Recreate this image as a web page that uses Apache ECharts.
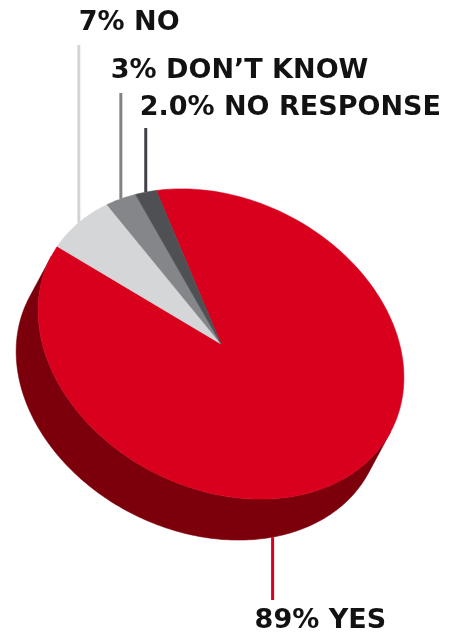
<!DOCTYPE html>
<html><head><meta charset="utf-8">
<script src="https://cdn.jsdelivr.net/npm/echarts@6/dist/echarts.min.js"></script>
<style>html,body{margin:0;padding:0;background:#fff}#c{width:460px;height:635px}</style>
</head><body><div id="c"></div>
<script>
// ---- data ----
const categories = ['YES', 'NO', 'DON\u2019T KNOW', 'NO RESPONSE'];
const values = [89, 7, 3, 2];
const percentLabels = ['89%', '7%', '3%', '2.0%'];

// ---- style / layout ----
const topColors = ['#d8001c', '#d5d6d8', '#858689', '#4e5053'];
const sideColors = ['#7b000c', '#a0a1a3', '#5a5b5e', '#333437'];
const lineColors = ['#d8001c', '#d3d4d6', '#808285', '#404245'];
const geo = { cx: 221, cy: 344, a: 191, b: 145, rot: 26.3, dx: -22, dy: 41, start: 228.7 };
const labelLayout = [
  { anchorT: 45.7, onBottom: true, lineEndY: 600, textDx: -18, textY: 621 },
  { anchorT: null, lineEndY: 45, textDx: 0, textY: 22.5 },
  { anchorT: null, lineEndY: 93, textDx: -10, textY: 70.5 },
  { anchorT: null, lineEndY: 128, textDx: -6, textY: 108 }
];
const FONT = 'bold 27px "DejaVu Sans"';

const total = values.reduce((s, v) => s + v, 0);
const starts = []; let acc = 0; values.forEach(v => { starts.push(acc); acc += v; });

const R = geo.rot * Math.PI / 180;
function pt(tDeg, shift) {
  const t = tDeg * Math.PI / 180;
  const u = geo.a * Math.cos(t), v = geo.b * Math.sin(t);
  return [geo.cx + Math.cos(R) * u - Math.sin(R) * v + (shift ? geo.dx : 0),
          geo.cy + Math.sin(R) * u + Math.cos(R) * v + (shift ? geo.dy : 0)];
}
function arc(t1, t2, shift) {
  const n = Math.max(2, Math.ceil(Math.abs(t2 - t1)));
  const out = [];
  for (let i = 0; i <= n; i++) out.push(pt(t1 + (t2 - t1) * i / n, shift));
  return out;
}
function angles(i) {
  const t1 = geo.start + starts[i] / total * 360;
  const t2 = t1 + values[i] / total * 360;
  return [t1, t2];
}
// front-facing range of the rim (where the extrusion is visible)
const dlx = Math.cos(R) * geo.dx + Math.sin(R) * geo.dy;
const dly = -Math.sin(R) * geo.dx + Math.cos(R) * geo.dy;
const phi = Math.atan2(geo.a * dly, geo.b * dlx) * 180 / Math.PI;

const seriesData = values.map((v, i) => ({ name: categories[i], value: [v, i] }));

const chart = echarts.init(document.getElementById('c'));
chart.setOption({
  animation: false,
  backgroundColor: '#ffffff',
  series: [
    {
      type: 'custom', name: 'side', coordinateSystem: 'none', z: 1, silent: true,
      data: seriesData,
      renderItem: function (params, api) {
        const i = params.dataIndex;
        const [t1, t2] = angles(i);
        const children = [];
        for (let k = -2; k <= 3; k++) {
          const lo = Math.max(t1, phi - 90 + 360 * k);
          const hi = Math.min(t2, phi + 90 + 360 * k);
          if (hi > lo) {
            const pts = arc(lo, hi, false).concat(arc(hi, lo, true));
            children.push({ type: 'polygon', shape: { points: pts },
              style: { fill: sideColors[i], stroke: sideColors[i], lineWidth: 0.5 } });
          }
        }
        return { type: 'group', children: children };
      }
    },
    {
      type: 'custom', name: 'top', coordinateSystem: 'none', z: 2, silent: true,
      data: seriesData,
      renderItem: function (params, api) {
        const i = params.dataIndex;
        const [t1, t2] = angles(i);
        const pts = [[geo.cx, geo.cy]].concat(arc(t1, t2, false));
        return { type: 'polygon', shape: { points: pts },
          style: { fill: topColors[i], stroke: topColors[i], lineWidth: 0.6 } };
      }
    },
    {
      type: 'custom', name: 'labels', coordinateSystem: 'none', z: 3, silent: true,
      data: seriesData,
      renderItem: function (params, api) {
        const i = params.dataIndex;
        const L = labelLayout[i];
        const [t1, t2] = angles(i);
        const t = L.anchorT != null ? L.anchorT : (t1 + t2) / 2;
        const p = pt(t, !!L.onBottom);
        return {
          type: 'group',
          children: [
            { type: 'line', shape: { x1: p[0], y1: p[1], x2: p[0], y2: L.lineEndY },
              style: { stroke: lineColors[i], lineWidth: 3 } },
            { type: 'text', style: {
                text: percentLabels[i] + ' ' + categories[i],
                x: p[0] + L.textDx, y: L.textY,
                font: FONT, fill: '#121212', align: 'left', verticalAlign: 'middle' } }
          ]
        };
      }
    }
  ]
});
</script>
</body></html>
